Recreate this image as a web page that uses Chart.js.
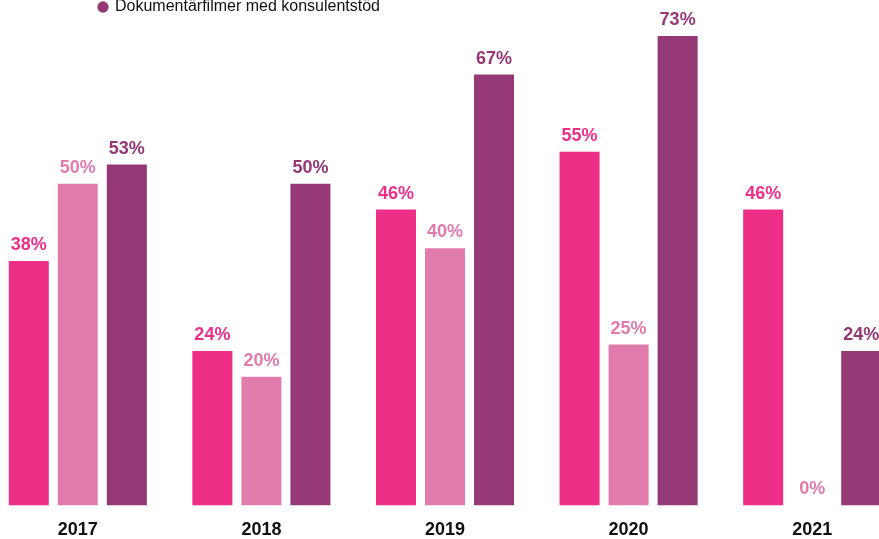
<!DOCTYPE html>
<html lang="sv">
<head>
<meta charset="utf-8">
<script src="https://cdn.jsdelivr.net/npm/chart.js@4/dist/chart.umd.min.js"></script>
<style>
  html, body { margin: 0; padding: 0; background: #fff; overflow: hidden; }
  body { width: 879px; height: 539px; position: relative; }
  #wrap { position: absolute; left: -14px; top: -11px; width: 918px; height: 566px; }
</style>
</head>
<body>
<div id="wrap"><canvas id="chart"></canvas></div>
<script>
// Years on the x axis
const years = ['2017', '2018', '2019', '2020', '2021'];

// Share in percent, one array per series
const seriesLabels = [
  'Spelfilmer med konsulentstöd',
  'Kortfilmer med konsulentstöd',
  'Dokumentärfilmer med konsulentstöd'
];
const spelfilmer = [38, 24, 46, 55, 46];
const kortfilmer = [50, 20, 40, 25, 0];
const dokumentarfilmer = [53, 50, 67, 73, 24];

const colors = ['#ee2f87', '#e07bac', '#943876'];

// Draw the value above every bar
const valueLabels = {
  id: 'valueLabels',
  afterDatasetsDraw(chart) {
    const ctx = chart.ctx;
    ctx.save();
    ctx.font = 'bold 18px "Liberation Sans", Arial, sans-serif';
    ctx.textAlign = 'center';
    ctx.textBaseline = 'alphabetic';
    chart.data.datasets.forEach((ds, i) => {
      const meta = chart.getDatasetMeta(i);
      meta.data.forEach((bar, j) => {
        ctx.fillStyle = ds.backgroundColor;
        ctx.fillText(ds.data[j] + '%', bar.x, bar.y - 11);
      });
    });
    ctx.restore();
  }
};

// The legend sits a bit in from the left edge
const legendShift = {
  id: 'legendShift',
  afterLayout(chart) {
    chart.legend.left += 103;
    chart.legend.right += 103;
  }
};

new Chart(document.getElementById('chart'), {
  type: 'bar',
  data: {
    labels: years,
    datasets: [
      { label: seriesLabels[0], data: spelfilmer, backgroundColor: colors[0] },
      { label: seriesLabels[1], data: kortfilmer, backgroundColor: colors[1] },
      { label: seriesLabels[2], data: dokumentarfilmer, backgroundColor: colors[2] }
    ]
  },
  options: {
    responsive: true,
    maintainAspectRatio: false,
    animation: false,
    layout: { padding: 0 },
    datasets: {
      bar: { categoryPercentage: 0.801, barPercentage: 0.816 }
    },
    plugins: {
      legend: {
        position: 'top',
        align: 'start',
        labels: {
          usePointStyle: true,
          pointStyle: 'circle',
          boxWidth: 8,
          boxHeight: 8,
          padding: 10,
          color: '#111',
          font: { family: '"Liberation Sans", Arial, sans-serif', size: 16 },
          filter: item => item.datasetIndex === 2
        }
      },
      tooltip: { enabled: false }
    },
    scales: {
      x: {
        grid: { display: false, drawTicks: false },
        border: { display: false },
        ticks: {
          color: '#111',
          padding: 14,
          font: { family: '"Liberation Sans", Arial, sans-serif', size: 18, weight: 'bold' }
        }
      },
      y: {
        display: false,
        min: 0,
        max: 74.7
      }
    }
  },
  plugins: [valueLabels, legendShift]
});
</script>
</body>
</html>
